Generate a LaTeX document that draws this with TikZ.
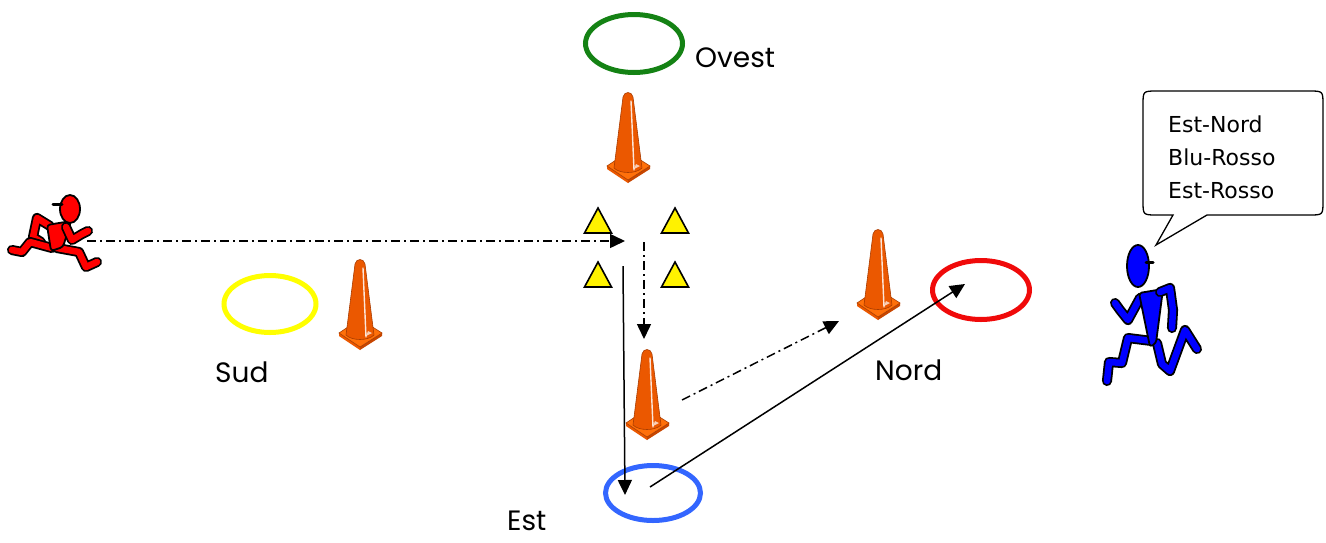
\documentclass[tikz,border=0pt]{standalone}
\usepackage{fontspec}
\setmainfont{Poppins}
\newfontfamily\bubblefont{DejaVu Sans}
\usetikzlibrary{arrows.meta}

\definecolor{ringgreen}{RGB}{20,130,20}
\definecolor{ringyellow}{RGB}{255,255,0}
\definecolor{ringblue}{RGB}{51,102,255}
\definecolor{ringred}{RGB}{240,10,10}
\definecolor{coneorange}{RGB}{255,112,10}
\definecolor{conelight}{RGB}{255,140,40}
\definecolor{conedark}{RGB}{235,88,0}
\definecolor{conedeep}{RGB}{200,70,0}
\definecolor{coneedge}{RGB}{170,60,0}

\tikzset{
  cone/.pic={
    % base plate: two side faces and the top face
    \fill[conedark] (-21,-14) -- (0,0) -- (0,-3) -- (-21,-17) -- cycle;
    \fill[conedeep] (0,0) -- (22,-14) -- (22,-17) -- (0,-3) -- cycle;
    \filldraw[fill=coneorange,draw=coneedge,line width=0.6pt]
      (-21,-17) -- (0,-3) -- (22,-17) -- (0,-31) -- cycle;
    % tapered post
    \shade[left color=conedark,middle color=conelight,right color=conedark]
      (-14,-15) .. controls (-8,-9) and (8,-9) .. (14,-15) -- (5,-86)
      .. controls (4,-92) and (-4,-92) .. (-5,-86) -- cycle;
    \draw[coneedge,line width=0.6pt]
      (-14,-15) .. controls (-8,-9) and (8,-9) .. (14,-15) -- (5,-86)
      .. controls (4,-92) and (-4,-92) .. (-5,-86) -- cycle;
    \draw[white,opacity=0.85,line width=1.4pt,line cap=round] (3,-82) -- (6,-13);
    \fill[white,opacity=0.7] (6,-14) -- (12,-17) -- (8,-19) -- cycle;
  },
  cornerflag/.pic={
    \filldraw[fill=yellow,draw=black,line width=1.6pt,line join=miter]
      (0,0) -- (13.5,25) -- (-13.5,25) -- cycle;
  },
  ring/.style={line width=5pt},
  place/.style={anchor=base west,inner sep=0pt,font=\fontsize{28}{30}\selectfont},
  speech/.style={anchor=base west,inner sep=0pt,font=\bubblefont\fontsize{22}{24}\selectfont},
  dashdot/.style={line width=1.5pt,dash pattern=on 9pt off 4pt on 2pt off 4pt,
    -{Triangle[length=15pt,width=14pt]}},
  plain/.style={line width=1.5pt,-{Triangle[length=15pt,width=14pt]}},
  limb/.style={line width=1.8pt,double distance=6.5pt,line cap=round,line join=round},
  figure/.style={draw=black,line width=1.8pt,line join=round},
}

\begin{document}
\begin{tikzpicture}[x=1pt,y=-1pt]
\useasboundingbox (0,0) rectangle (1326,542);

% rings
\draw[ring,ringgreen]  (634,43.5) ellipse [x radius=48.5,y radius=29];
\draw[ring,ringyellow] (270,304)  ellipse [x radius=46,y radius=28.5];
\draw[ring,ringblue]   (653,493)  ellipse [x radius=47.5,y radius=27.5];
\draw[ring,ringred]    (981,290)  ellipse [x radius=48.5,y radius=29.5];

% names of the rings
\node[place] (ovest) at (695,67)  {Ovest};
\node[place] (sud)   at (215,382) {Sud};
\node[place] (nord)  at (875,380) {Nord};
\node[place] (est)   at (507,530) {Est};

% cones
\pic at (628,183) {cone};
\pic at (360,350) {cone};
\pic at (647,440) {cone};
\pic at (878,320) {cone};

% yellow corner flags
\pic at (598,208) {cornerflag};
\pic at (675,208) {cornerflag};
\pic at (598,262) {cornerflag};
\pic at (675,262) {cornerflag};

% path end points
\coordinate (redhand)  at (87,241);
\coordinate (gatein)   at (625,241);
\coordinate (gatetop)  at (644,242);
\coordinate (gatelow)  at (644,339);
\coordinate (gateleft) at (623,266);
\coordinate (estin)    at (625,495);
\coordinate (midcone)  at (682,400);
\coordinate (farcone)  at (839,321);
\coordinate (estout)   at (650,487);
\coordinate (nordin)   at (965,284);

\draw[dashdot] (redhand) -- (gatein);
\draw[dashdot] (gatetop) -- (gatelow);
\draw[plain]   (gateleft) -- (estin);
\draw[dashdot] (midcone) -- (farcone);
\draw[plain]   (estout) -- (nordin);

% red runner
\draw[limb,double=red] (50,226) -- (37,218) -- (33,237) -- (41,242);
\draw[limb,double=red] (52,248) -- (30,242) -- (22,252) -- (12,250);
\draw[limb,double=red] (57,248) -- (79,252) -- (86,267) -- (97,262);
\draw[figure,fill=red,rounded corners=3pt] (47,225) -- (71,221) -- (63,247) -- (51,251) -- cycle;
\draw[limb,double=red] (66,227) -- (72,240) -- (82,234) -- (88,231);
\draw[figure,fill=red] (70,209) ellipse [x radius=10,y radius=14];
\draw[black,line width=3pt,line cap=round] (53,204) -- (62,204);

% blue runner
\draw[limb,double=blue] (1140,298) -- (1128,320) -- (1120,310) -- (1115,303);
\draw[limb,double=blue] (1152,341) -- (1128,338) -- (1122,363) -- (1109,362) -- (1107,381);
\draw[limb,double=blue] (1157,343) -- (1162,364) -- (1170,371) -- (1185,330) -- (1197,349);
\draw[figure,fill=blue,rounded corners=3pt] (1139,293) -- (1163,289) -- (1156,343) -- (1150,347) -- cycle;
\draw[limb,double=blue] (1160,292) -- (1170,288) -- (1173,310) -- (1172,328);
\draw[figure,fill=blue] (1138,266) ellipse [x radius=11,y radius=21];
\draw[black,line width=3pt,line cap=round] (1146,262) -- (1153,262);

% speech bubble
\draw[line width=1.3pt,fill=white]
  (1156,245) -- (1173,215) -- (1157,215) .. controls (1143,215) .. (1143,201)
  -- (1143,105) .. controls (1143,91) .. (1157,91) -- (1309,91)
  .. controls (1323,91) .. (1323,105) -- (1323,201)
  .. controls (1323,215) .. (1309,215) -- (1207,215) -- cycle;
\node[speech] (call1) at (1168,132) {Est-Nord};
\node[speech] (call2) at (1168,165) {Blu-Rosso};
\node[speech] (call3) at (1168,198) {Est-Rosso};

\end{tikzpicture}
\end{document}
